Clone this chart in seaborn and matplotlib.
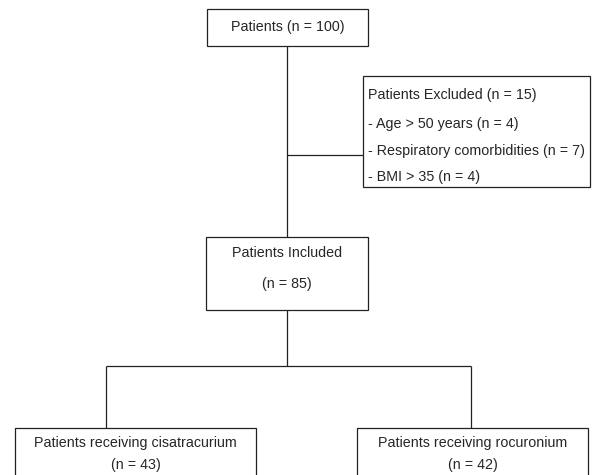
import matplotlib
matplotlib.use("Agg")
import matplotlib.pyplot as plt
import seaborn as sns
from matplotlib.patches import Rectangle

# flowchart text
top_label = ["Patients (n = 100)"]
excluded_lines = ["Patients Excluded (n = 15)",
                  "- Age > 50 years (n = 4)",
                  "- Respiratory comorbidities (n = 7)",
                  "- BMI > 35 (n = 4)"]
included_lines = ["Patients Included", "(n = 85)"]
group_names = ["Patients receiving cisatracurium", "Patients receiving rocuronium"]
group_counts = [43, 42]

sns.set_style("white")
plt.rcParams['font.family'] = ['Liberation Sans', 'DejaVu Sans']

fig = plt.figure(figsize=(5.94, 4.75), dpi=100)
ax = fig.add_axes([0, 0, 1, 1])
ax.set_xlim(0, 594)
ax.set_ylim(475, 0)
ax.axis('off')

lc = '#222222'
fs = 10.3

def box(x0, y0, x1, y1):
    ax.add_patch(Rectangle((x0, y0), x1 - x0, y1 - y0, fill=False,
                           edgecolor=lc, linewidth=0.9))

def line(xs, ys):
    ax.plot(xs, ys, color=lc, linewidth=0.9, solid_capstyle='butt')

# top box
box(207, 9, 368, 46)
ax.text(288, 27, top_label[0], ha='center', va='center', fontsize=fs)

# main vertical + branch to exclusion
line([287, 287], [46, 237])
line([287, 363], [155, 155])

# exclusion box
box(363, 76, 590, 187)
for i, t in enumerate(excluded_lines):
    ax.text(368, [95, 124, 151, 177][i], t, ha='left', va='center', fontsize=fs)

# included box
box(206, 237, 368, 310)
ax.text(287, 253, included_lines[0], ha='center', va='center', fontsize=fs)
ax.text(287, 284, included_lines[1], ha='center', va='center', fontsize=fs)

# split into groups
line([287, 287], [310, 366])
line([106, 471], [366, 366])
line([106, 106], [366, 428])
line([471, 471], [366, 428])

# group boxes (cut off at bottom edge like the original)
grp_box = [(15, 256), (357, 588)]
for (x0, x1), name, n in zip(grp_box, group_names, group_counts):
    box(x0, 428, x1, 480)
    cx = (x0 + x1) / 2
    ax.text(cx, 443, name, ha='center', va='center', fontsize=fs)
    ax.text(cx, 465, f"(n = {n})", ha='center', va='center', fontsize=fs)

fig.savefig('out.png', dpi=100)
